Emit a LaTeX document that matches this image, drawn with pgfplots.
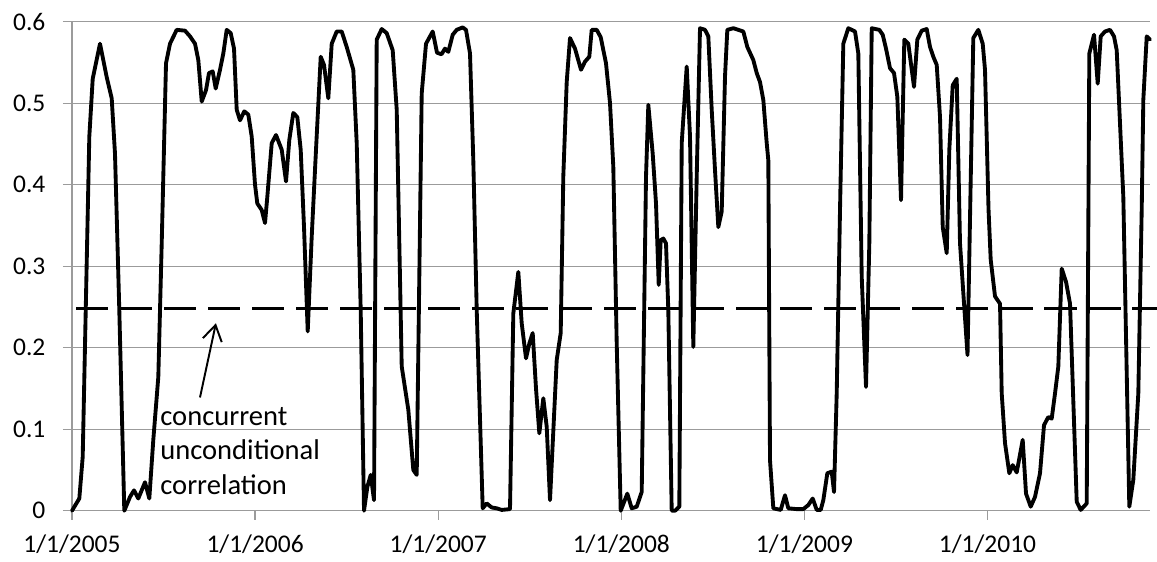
\documentclass[border=0pt]{standalone}
\usepackage{pgfplots}
\pgfplotsset{compat=1.18}
\usepackage{fontspec}
\setmainfont{Carlito}
\usetikzlibrary{arrows.meta}
\definecolor{gridgray}{RGB}{155,155,155}
\pgfplotstableread{
t v
0.0000 0.000
0.0399 0.015
0.0584 0.066
0.0945 0.459
0.1131 0.530
0.1529 0.573
0.1895 0.532
0.2168 0.506
0.2348 0.438
0.2583 0.246
0.2856 0.000
0.3168 0.017
0.3386 0.025
0.3621 0.015
0.3987 0.035
0.4222 0.015
0.4440 0.087
0.4713 0.164
0.4899 0.328
0.5134 0.549
0.5352 0.573
0.5718 0.590
0.6171 0.589
0.6445 0.582
0.6718 0.573
0.6898 0.553
0.7084 0.502
0.7318 0.516
0.7482 0.537
0.7684 0.539
0.7848 0.518
0.8083 0.541
0.8263 0.561
0.8449 0.590
0.8667 0.586
0.8848 0.567
0.8995 0.492
0.9175 0.479
0.9410 0.490
0.9629 0.486
0.9814 0.459
0.9995 0.400
1.0120 0.377
1.0360 0.369
1.0541 0.353
1.0666 0.385
1.0907 0.451
1.1141 0.461
1.1453 0.443
1.1688 0.404
1.1868 0.455
1.2086 0.488
1.2305 0.483
1.2490 0.443
1.2671 0.348
1.2873 0.220
1.3091 0.336
1.3326 0.443
1.3583 0.557
1.3763 0.547
1.3998 0.506
1.4184 0.573
1.4457 0.588
1.4730 0.588
1.5003 0.569
1.5363 0.541
1.5549 0.451
1.5767 0.246
1.5948 0.000
1.6128 0.029
1.6314 0.044
1.6494 0.013
1.6641 0.578
1.6914 0.591
1.7187 0.586
1.7515 0.565
1.7734 0.492
1.8007 0.177
1.8367 0.124
1.8640 0.050
1.8826 0.044
1.9099 0.512
1.9334 0.573
1.9700 0.588
1.9934 0.562
2.0180 0.560
2.0371 0.567
2.0552 0.563
2.0792 0.584
2.1010 0.590
2.1338 0.593
2.1518 0.590
2.1737 0.561
2.1917 0.430
2.2103 0.246
2.2430 0.003
2.2649 0.009
2.2922 0.004
2.3195 0.003
2.3468 0.001
2.3921 0.002
2.4102 0.242
2.4375 0.293
2.4560 0.230
2.4795 0.187
2.4975 0.205
2.5161 0.218
2.5341 0.150
2.5522 0.095
2.5740 0.138
2.5926 0.103
2.6106 0.013
2.6472 0.185
2.6690 0.218
2.6832 0.410
2.7018 0.526
2.7198 0.580
2.7471 0.567
2.7799 0.541
2.8017 0.551
2.8252 0.557
2.8383 0.590
2.8656 0.590
2.8875 0.581
2.9164 0.549
2.9383 0.500
2.9563 0.422
2.9749 0.205
2.9967 0.000
3.0328 0.021
3.0568 0.003
3.0841 0.005
3.1114 0.023
3.1349 0.410
3.1475 0.498
3.1715 0.438
3.1895 0.377
3.2043 0.277
3.2152 0.332
3.2294 0.334
3.2441 0.328
3.2567 0.246
3.2752 0.000
3.2933 0.000
3.3168 0.005
3.3299 0.451
3.3572 0.545
3.3752 0.459
3.3932 0.201
3.4118 0.410
3.4298 0.592
3.4571 0.590
3.4752 0.582
3.4937 0.492
3.5117 0.418
3.5298 0.348
3.5483 0.367
3.5664 0.533
3.5789 0.590
3.6117 0.592
3.6663 0.588
3.6882 0.569
3.7209 0.553
3.7395 0.537
3.7575 0.526
3.7756 0.504
3.7941 0.451
3.8029 0.430
3.8121 0.062
3.8302 0.003
3.8706 0.001
3.8940 0.019
3.9121 0.003
3.9580 0.002
3.9940 0.002
4.0213 0.007
4.0453 0.015
4.0672 0.001
4.0890 0.001
4.1033 0.013
4.1251 0.046
4.1491 0.048
4.1617 0.023
4.1764 0.144
4.1944 0.369
4.2125 0.573
4.2398 0.592
4.2764 0.588
4.2944 0.561
4.3130 0.287
4.3364 0.152
4.3545 0.328
4.3676 0.592
4.4091 0.590
4.4277 0.584
4.4457 0.567
4.4675 0.543
4.4894 0.537
4.5074 0.508
4.5276 0.381
4.5456 0.578
4.5675 0.573
4.5986 0.520
4.6166 0.578
4.6407 0.589
4.6679 0.591
4.6860 0.569
4.7040 0.557
4.7226 0.547
4.7406 0.483
4.7554 0.348
4.7772 0.316
4.7914 0.443
4.8100 0.522
4.8318 0.530
4.8498 0.328
4.8679 0.267
4.8908 0.191
4.9224 0.580
4.9497 0.590
4.9738 0.573
4.9863 0.541
5.0055 0.370
5.0174 0.308
5.0410 0.263
5.0683 0.254
5.0775 0.144
5.0956 0.083
5.1191 0.046
5.1376 0.056
5.1595 0.047
5.1922 0.087
5.2103 0.021
5.2359 0.005
5.2594 0.017
5.2867 0.046
5.3086 0.105
5.3320 0.115
5.3506 0.113
5.3687 0.144
5.3867 0.177
5.4052 0.297
5.4287 0.281
5.4506 0.254
5.4872 0.011
5.5090 0.001
5.5418 0.009
5.5560 0.561
5.5817 0.584
5.6018 0.524
5.6182 0.582
5.6417 0.588
5.6690 0.590
5.6909 0.582
5.7056 0.565
5.7417 0.385
5.7744 0.005
5.7963 0.038
5.8236 0.144
5.8421 0.369
5.8509 0.504
5.8695 0.582
5.8875 0.578
}\corr
\begin{document}
\fontsize{13.2}{16}\selectfont
\begin{tikzpicture}
\begin{axis}[
  name=ax,
  scale only axis, width=559.0pt, height=253.6pt,
  xmin=0, xmax=5.8875, ymin=0, ymax=0.6,
  clip=false,
  axis x line*=bottom, axis y line*=left,
  axis line style={gridgray, line width=0.7pt, -},
  ytick={0,0.1,0.2,0.3,0.4,0.5,0.6},
  yticklabels={0,0.1,0.2,0.3,0.4,0.5,0.6},
  xtick={0,1,2,3,4,5},
  xticklabels={1/1/2005,1/1/2006,1/1/2007,1/1/2008,1/1/2009,1/1/2010},
  ymajorgrids, xmajorgrids=false,
  major grid style={gridgray, line width=0.7pt},
  tick align=outside, major tick length=4.7pt,
  tick style={gridgray, line width=0.7pt},
  ticklabel style={font=\fontsize{13.2}{16}\selectfont, text=black},
  yticklabel style={xshift=-4.5pt},
  xticklabel style={yshift=-3.3pt},
]
\addplot[black, line width=1.8pt, dash pattern=on 16.75pt off 6.07pt] coordinates {(0.022,0.248) (5.926,0.248)};
\addplot[black, line width=2.0pt, line join=round, line cap=round] table[x=t, y=v] {\corr};
\draw[black, line width=1pt, -{Straight Barb[length=8pt,width=10pt,line width=1pt]}] (axis cs:0.699,0.139) -- (axis cs:0.786,0.230);
\node[anchor=base west, inner sep=0pt, font=\fontsize{14.8}{18}\selectfont] at (axis cs:0.4806,0.105) {concurrent};
\node[anchor=base west, inner sep=0pt, font=\fontsize{14.8}{18}\selectfont] at (axis cs:0.4806,0.063) {unconditional};
\node[anchor=base west, inner sep=0pt, font=\fontsize{14.8}{18}\selectfont] at (axis cs:0.4806,0.020) {correlation};
\end{axis}
\pgfresetboundingbox
\path[use as bounding box] ([xshift=-37.34pt,yshift=-26.08pt]ax.south west) rectangle ([xshift=3.63pt,yshift=11.25pt]ax.north east);
\end{tikzpicture}
\end{document}
